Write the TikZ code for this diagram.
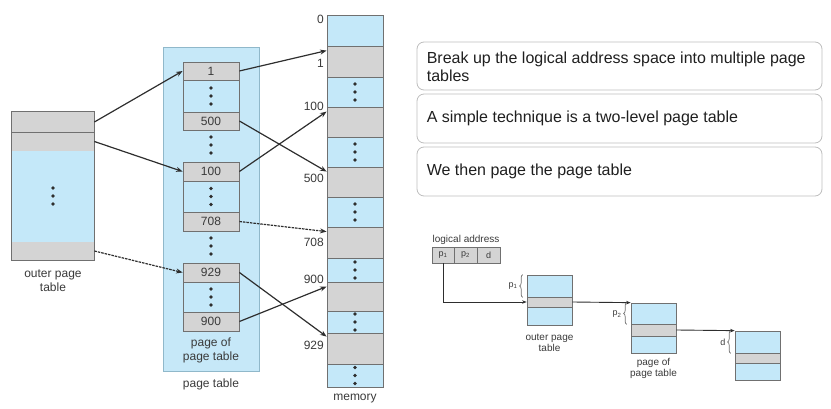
\documentclass[tikz,border=0pt]{standalone}
\usepackage{fontspec}
\setmainfont{Liberation Sans}
\usetikzlibrary{arrows.meta,decorations.pathreplacing}
\definecolor{cblue}{HTML}{C4E8F9}
\definecolor{cgray}{HTML}{D4D4D4}
\definecolor{cedge}{HTML}{707070}
\definecolor{ptfill}{HTML}{C6E8F8}
\definecolor{ptedge}{HTML}{90B8CA}
\definecolor{linec}{HTML}{2E2E2E}
\definecolor{txt}{HTML}{3A3A3A}
\definecolor{boxedge}{HTML}{BDBDBD}
% name, xcenter, width, top, bottom, fill, text
\newcommand\mycell[7]{\node[cell, fill=#6, minimum width=#3pt, minimum height={#5pt-#4pt}] (#1) at (#2,{(#4+#5)/2}) {#7};}
\newcommand\tridots[2]{\foreach \k in {-8,0,8}{\fill[linec] (#1,{#2+\k}) circle (1.8pt);}}
\begin{document}
\begin{tikzpicture}[x=1pt,y=-1pt,
  cell/.style={draw=cedge, line width=0.8pt, inner sep=0pt, font=\fontsize{12}{12}\selectfont, text=txt},
  arr/.style={draw=linec, line width=1.2pt, -{Stealth[length=6.5pt,width=5pt]}},
  darr/.style={arr, dash pattern=on 2.5pt off 1pt},
  sarr/.style={draw=linec, line width=0.9pt, -{Stealth[length=4.5pt,width=3.5pt]}},
  lbl/.style={font=\fontsize{12}{14}\selectfont, text=txt, align=center, inner sep=0pt},
  slbl/.style={font=\fontsize{10}{11}\selectfont, text=txt, align=center, inner sep=0pt},
  tbox/.style={draw=boxedge, line width=0.8pt, rounded corners=7pt, inner sep=0pt, minimum width=405pt},
  btxt/.style={font=\fontsize{16}{17.5}\selectfont, align=left, inner sep=0pt, text=black!88},
  brc/.style={decorate, decoration={brace, amplitude=3pt}, draw=cedge, line width=0.7pt}
]
\useasboundingbox (0,0) rectangle (831,409);

% ---------- outer page table ----------
\begin{scope}[cell/.append style={draw=none}]
\mycell{o1}{53}{82}{112}{132}{cgray}{}
\mycell{o2}{53}{82}{132}{151}{cgray}{}
\mycell{o3}{53}{82}{151}{242}{cblue}{}
\mycell{o4}{53}{82}{242}{260}{cgray}{}
\end{scope}
\draw[draw=cedge, line width=0.8pt] (o1.north west) rectangle (o4.south east);
\draw[draw=cedge, line width=1pt] (o1.south west) -- (o1.south east);
\tridots{53}{196}
\node[lbl] (olbl) at (53,281) {outer page\\table};

% ---------- page table ----------
\node[draw=ptedge, fill=ptfill, line width=0.8pt, minimum width=96pt, minimum height=324pt, inner sep=0pt] (pt) at (211,209) {};
\node[lbl] (ptlbl) at (211,384) {page table};
\node[lbl] (poplbl) at (211,350) {page of\\page table};

\mycell{p1a}{211}{56}{62}{80}{cgray}{1}
\mycell{p1b}{211}{56}{80}{112}{cblue}{}
\mycell{p1c}{211}{56}{112}{130}{cgray}{500}
\mycell{p2a}{211}{56}{162}{181}{cgray}{100}
\mycell{p2b}{211}{56}{181}{212}{cblue}{}
\mycell{p2c}{211}{56}{212}{231}{cgray}{708}
\mycell{p3a}{211}{56}{263}{282}{cgray}{929}
\mycell{p3b}{211}{56}{282}{312}{cblue}{}
\mycell{p3c}{211}{56}{312}{331}{cgray}{900}
\tridots{211}{96}
\tridots{211}{145}
\tridots{211}{196.5}
\tridots{211}{246}
\tridots{211}{297}

% ---------- memory ----------
\mycell{m0}{355}{56}{15}{46}{cblue}{}
\mycell{m1}{355}{56}{46}{77}{cgray}{}
\mycell{md1}{355}{56}{77}{107}{cblue}{}
\mycell{m100}{355}{56}{107}{137}{cgray}{}
\mycell{md2}{355}{56}{137}{167}{cblue}{}
\mycell{m500}{355}{56}{167}{197}{cgray}{}
\mycell{md3}{355}{56}{197}{227}{cblue}{}
\mycell{m708}{355}{56}{227}{258}{cgray}{}
\mycell{md4}{355}{56}{258}{282}{cblue}{}
\mycell{m900}{355}{56}{282}{311}{cgray}{}
\mycell{md5}{355}{56}{311}{333}{cblue}{}
\mycell{m929}{355}{56}{333}{364}{cgray}{}
\mycell{md6}{355}{56}{364}{387}{cblue}{}
\tridots{355}{92}
\tridots{355}{152}
\tridots{355}{212}
\tridots{355}{270}
\tridots{355}{322}
\tridots{355}{375.5}
\node[lbl, anchor=east] (l0) at (324,19) {0};
\node[lbl, anchor=east] (l1) at (324,63) {1};
\node[lbl, anchor=east] (l100) at (324,106) {100};
\node[lbl, anchor=east] (l500) at (324,178) {500};
\node[lbl, anchor=east] (l708) at (324,242) {708};
\node[lbl, anchor=east] (l900) at (324,279) {900};
\node[lbl, anchor=east] (l929) at (324,345) {929};
\node[lbl] (mlbl) at (355,399) {memory};

% ---------- arrows ----------
\draw[arr] (o1.east) -- (p1a.west);
\draw[arr] (o2.east) -- (p2a.west);
\draw[darr] (o4.east) -- (p3a.west);
\draw[arr] (p1a.east) -- ([yshift=-5pt]m1.north west);
\draw[arr] (p1c.east) -- ([yshift=-5pt]m500.north west);
\draw[arr] (p2a.east) -- ([yshift=-5pt]m100.north west);
\draw[darr] (p2c.east) -- ([yshift=-5pt]m708.north west);
\draw[arr] (p3a.east) -- ([yshift=-4pt]m929.north west);
\draw[arr] (p3c.east) -- ([yshift=-5pt]m900.north west);

% ---------- text boxes ----------
\node[tbox, minimum height=48pt] (b1) at (619.5,66) {};
\node[tbox, minimum height=49pt] (b2) at (619.5,118.5) {};
\node[tbox, minimum height=49pt] (b3) at (619.5,171.5) {};
\node[btxt, anchor=west] (t1) at ([xshift=10pt,yshift=-1pt]b1.west) {Break up the logical address space into multiple page\\tables};
\node[btxt, anchor=west] (t2) at ([xshift=10pt]b2.west) {A simple technique is a two-level page table};
\node[btxt, anchor=west] (t3) at ([xshift=10pt]b3.west) {We then page the page table};

% ---------- small two-level diagram ----------
\begin{scope}[cell/.append style={font=\fontsize{9}{9}\selectfont, line width=0.7pt}]
\node[slbl] (la) at (466,240) {logical address};
\mycell{a1}{443}{22}{247}{263}{cgray}{p\textsubscript{1}}
\mycell{a2}{465.5}{23}{247}{263}{cgray}{p\textsubscript{2}}
\mycell{a3}{488.5}{23}{247}{263}{cgray}{d}

\mycell{ot1}{549.5}{45}{275}{297}{cblue}{}
\mycell{ot2}{549.5}{45}{297}{307}{cgray}{}
\mycell{ot3}{549.5}{45}{307}{325}{cblue}{}
\mycell{pp1}{653.5}{45}{303}{324}{cblue}{}
\mycell{pp2}{653.5}{45}{324}{336}{cgray}{}
\mycell{pp3}{653.5}{45}{336}{353}{cblue}{}
\mycell{mm1}{757.5}{45}{331}{353}{cblue}{}
\mycell{mm2}{757.5}{45}{353}{363}{cgray}{}
\mycell{mm3}{757.5}{45}{363}{380}{cblue}{}
\end{scope}
\node[slbl] (otl) at (549.5,342.5) {outer page\\table};
\node[slbl] (ppl) at (653.5,368) {page of\\page table};

\draw[sarr] (a1.south) |- (ot2.west);
\draw[sarr] (ot2.east) -- (pp1.north west);
\draw[sarr] (pp2.east) -- (mm1.north west);

\draw[brc] ([xshift=-4pt]ot1.south west) -- ([xshift=-4pt]ot1.north west);
\draw[brc] ([xshift=-4pt]pp1.south west) -- ([xshift=-4pt]pp1.north west);
\draw[brc] ([xshift=-4pt]mm1.south west) -- ([xshift=-4pt]mm1.north west);
\node[slbl, anchor=east, font=\fontsize{9}{9}\selectfont] (bp1) at ([xshift=-9pt]ot1.west) {p\textsubscript{1}};
\node[slbl, anchor=east, font=\fontsize{9}{9}\selectfont] (bp2) at ([xshift=-9pt,yshift=-1pt]pp1.west) {p\textsubscript{2}};
\node[slbl, anchor=east, font=\fontsize{9}{9}\selectfont] (bd) at ([xshift=-9pt]mm1.west) {d};
\end{tikzpicture}
\end{document}
